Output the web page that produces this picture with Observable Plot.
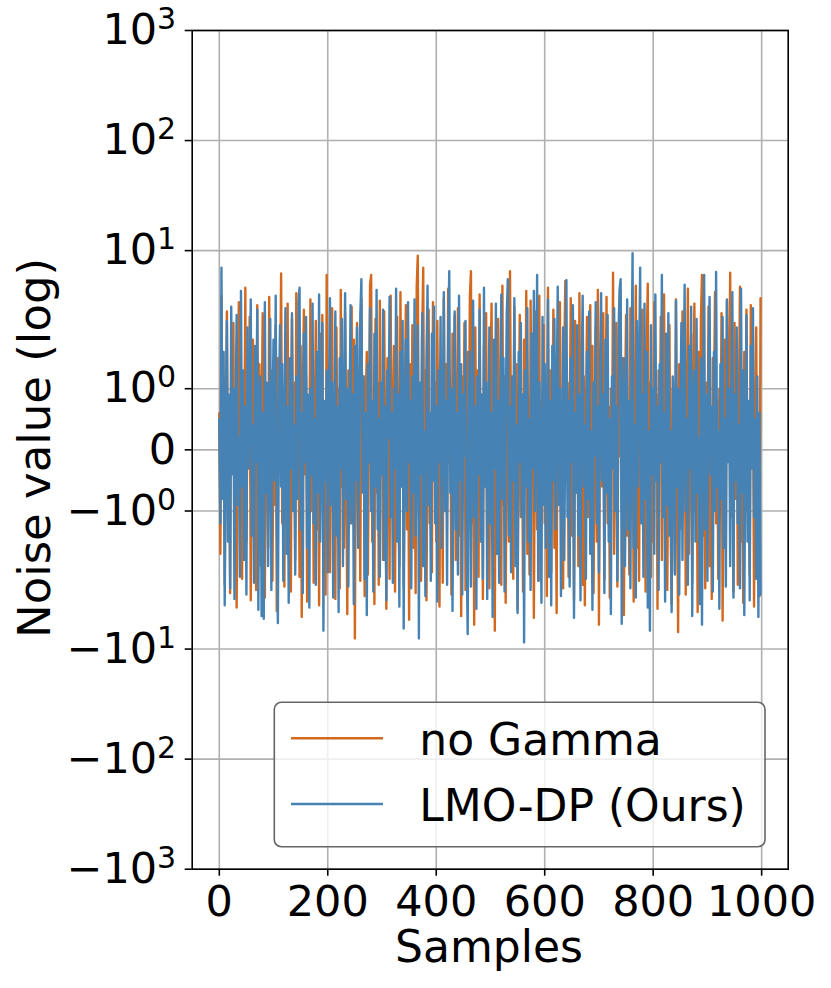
<!DOCTYPE html>
<html>
<head>
<meta charset="utf-8">
<script src="https://cdn.jsdelivr.net/npm/d3@7"></script>
<script src="https://cdn.jsdelivr.net/npm/@observablehq/plot@0.6"></script>
<style>
  html, body { margin: 0; padding: 0; background: #fff; }
  svg { display: block; }
</style>
</head>
<body>
<div id="chart"></div>
<script>
// ---- data (every 2nd sample) ----
const sampleStep = 2;
const noGamma = [
 0.6,-1.7,3.9,-0.4,1.2,-2.6,0.3,2.8,-0.9,0.5, -3.1,1.6,-0.2,2.2,-1.3,0.8,-4.2,0.1,3.4,-0.7,
 1.1,-2.3,0.4,-0.6,4.6,-1.5,0.9,-0.3,2.5,-3.6, 0.2,1.8,-1.1,0.7,-2.9,3.2,-0.5,1.4,-1.9,0.3,
 2.7,-0.8,-3.4,1.0,0.4,-1.6,3.8,-0.2,1.3,-2.4,
 0.6,-0.9,2.1,-4.5,1.5,-0.3,0.8,6.2,-1.2,0.2, -2.7,1.9,-0.6,3.3,-1.4,0.5,-3.0,2.4,-0.1,1.1,
 -1.8,4.1,-0.7,0.3,-2.2,1.7,-5.1,0.9,2.9,-0.4, 1.2,-3.7,0.6,-0.2,3.6,-1.0,1.5,-2.5,0.4,2.3,
 -1.3,0.7,-4.0,1.9,-0.5,2.6,-1.7,0.2,-3.2,6.0,
 -0.8,1.4,-2.0,0.3,3.0,-1.1,0.6,-3.5,2.0,-0.3, 1.0,-2.8,4.4,-0.6,0.9,-1.6,2.7,-0.2,-4.8,1.3,
 0.5,-1.2,3.1,-0.9,1.8,-8.0,0.7,2.2,-1.4,0.1, -2.4,3.7,-0.5,1.2,-3.3,0.8,1.6,-2.1,0.4,4.9,
 6.0,-1.5,0.3,-3.9,2.4,-0.7,1.1,-2.6,3.5,-0.4,
 0.9,-1.8,2.8,-0.2,-4.3,1.5,0.6,-2.3,3.9,-1.0, 0.2,1.7,-3.0,0.8,2.5,-0.6,-1.9,4.2,-0.3,1.0,
 -2.7,0.5,3.2,-1.3,0.9,-5.4,1.4,-0.4,2.1,-1.6, 0.7,-3.1,4.7,9.0,-1.1,0.4,-2.4,1.8,7.0,-0.8,
 1.3,-3.6,0.2,2.9,-1.2,0.6,-2.0,3.4,-0.5,1.1,
 -1.5,2.3,-0.3,-4.1,1.0,0.5,-2.5,3.6,-0.9,1.4, -1.0,4.5,-0.2,0.8,-3.2,1.9,-0.6,2.6,-1.8,0.3,
 3.0,-1.4,0.7,-5.0,1.2,-0.4,2.2,-2.9,0.6,1.6, -0.7,3.8,6.5,-1.2,0.4,-6.0,2.0,-0.5,1.3,-2.2,
 4.0,-0.8,0.9,-3.5,1.7,-0.1,2.7,-1.6,0.5,-2.8,
 1.1,3.3,-0.6,0.2,-6.8,1.5,-1.0,2.4,-0.3,0.8, -2.6,4.8,-0.9,1.2,-3.8,0.4,2.0,-1.5,6.5,-0.2,
 0.7,-2.3,3.1,-0.7,1.4,-4.4,0.3,2.6,-1.1,0.9, -3.0,1.8,-0.4,4.3,-1.7,0.6,-2.1,3.5,-0.5,1.0,
 -5.2,0.5,2.8,-1.3,0.2,3.9,-2.4,0.8,-0.6,2.1,
 -1.2,0.4,-3.3,4.6,-0.8,1.3,-2.0,0.6,2.9,-1.6, 0.1,-4.7,1.9,-0.3,3.4,-1.0,0.7,-2.8,1.5,5.3,
 -0.5,1.1,-2.2,0.3,3.7,-1.4,0.9,-3.6,2.3,-0.7, 1.6,-1.9,4.1,-0.2,0.8,-2.6,1.2,-4.0,0.5,2.5,
 -1.1,0.6,3.2,-0.9,1.7,-3.1,0.2,2.0,-1.5,4.4,
 -6.0,0.9,1.4,-0.6,2.7,-2.3,0.4,3.8,-1.2,0.7, -3.4,1.0,-0.3,6.3,-1.7,0.5,2.2,-2.7,0.8,-0.1,
 4.3,-1.0,1.5,-4.9,0.6,2.6,-1.4,0.3,-2.1,3.0, -0.8,1.2,-3.7,0.4,4.8,-1.6,0.9,-2.4,1.8,-0.5,
 2.9,-1.3,0.2,-3.0,1.6,5.0,-0.7,1.1,-2.2,0.6,
 -1.5,3.4,-0.4,0.9,-4.3,1.3,-0.2,2.5,-1.8,0.7, 4.0,-0.9,1.7,-2.9,0.3,2.1,-1.1,-3.9,1.0,0.5,
 -2.0,3.6,-0.6,-7.0,1.4,0.8,-1.3,2.8,-0.3,1.2, -3.2,0.6,4.5,-1.7,0.1,1.9,-2.5,0.7,3.3,-1.0,
 0.4,-4.6,1.6,-0.5,2.4,6.0,-1.4,0.9,-2.8,1.1,
 -0.7,3.1,-1.9,0.3,-3.5,1.5,0.6,4.2,-1.2,0.8, -2.3,1.0,-0.4,2.7,-5.5,0.5,1.8,-1.6,3.5,-0.2,
 0.9,6.3,-1.1,0.4,-3.0,2.2,-0.8,1.3,-2.6,0.7, 4.7,-1.5,0.2,-3.8,1.6,-0.6,2.9,-1.0,0.5,-2.1,
 3.2,-0.3,1.1,-4.1,0.8,2.0,-1.8,0.4,-3.3,3.7
];
const lmoDP = [
 0.5,-1.2,7.0,-0.8,1.6,-4.0,0.3,2.3,-1.5,0.9, -2.8,3.1,-0.4,1.0,-3.5,0.6,2.6,-0.9,0.2,-2.2,
 4.3,-0.6,1.3,-1.8,0.7,-3.2,2.0,-0.3,0.8,3.6, -1.4,0.4,-2.5,1.7,-0.2,2.9,-4.4,0.9,1.2,-5.0,
 0.6,-5.3,3.4,-0.7,1.1,-1.9,0.3,2.4,-2.9,0.5,
 1.8,-0.5,3.9,-1.1,-5.8,0.8,2.1,-0.6,1.4,-2.4, 0.2,3.0,-1.7,0.7,-3.8,1.5,-0.3,2.7,-1.0,0.4,
 -2.1,1.2,-0.8,3.5,4.6,-1.3,0.6,-3.1,1.9,-0.2, 2.5,-1.6,0.9,-4.2,1.0,-0.4,3.3,-1.2,0.5,-2.6,
 1.6,-0.7,4.0,-1.5,0.3,2.2,-6.8,0.8,-0.5,1.3,
 -2.0,0.6,3.7,-0.9,1.1,-3.4,0.2,2.8,-1.4,0.7, -4.6,1.5,-0.3,2.4,-1.9,0.5,4.1,-0.8,1.0,-2.7,
 0.3,3.2,-1.2,0.9,-3.9,1.7,-0.5,2.0,-1.6,0.4, 2.6,5.5,-0.7,1.2,-2.3,0.6,-4.9,1.4,-0.2,3.0,
 -1.0,0.8,-3.0,1.9,-0.6,4.4,-1.3,0.5,-2.2,1.1,
 -0.4,2.9,-1.8,0.7,-3.6,1.3,0.2,3.8,-1.1,0.6, -2.5,1.0,-0.3,4.5,-1.5,0.9,-4.1,1.6,-0.6,2.3,
 -6.5,0.4,1.8,-1.0,3.4,-0.2,0.8,-2.8,1.2,-0.7, 3.6,-1.4,0.5,2.1,-8.0,1.1,-0.4,2.7,-1.9,0.3,
 -3.3,1.5,4.8,-0.9,0.6,-2.4,1.9,-0.5,3.1,-1.2,
 0.7,-3.7,1.3,-0.2,2.5,-1.6,0.4,4.2,-1.0,0.8, -2.6,1.7,6.5,-0.7,1.0,-4.5,0.3,2.8,-1.3,0.6,
 -2.1,3.9,-0.5,1.4,-3.2,0.9,-0.1,2.3,-1.7,-7.3, 0.5,1.6,-2.7,0.2,3.5,-1.1,0.7,-4.3,1.2,-0.4,
 2.9,-1.5,0.9,-2.3,4.6,-0.6,1.1,-3.5,0.4,2.0,
 -1.2,0.6,-5.1,1.8,-0.3,3.3,-1.7,0.8,-2.5,1.0, 4.0,-0.8,1.5,-3.0,0.3,2.6,5.5,-1.4,0.7,-2.0,
 1.2,-0.5,3.7,-1.9,0.4,-4.7,1.6,-0.2,2.2,-1.1, 0.9,-8.7,1.3,-0.6,3.0,-1.5,0.5,-2.9,1.9,-0.3,
 4.3,-1.0,0.7,6.0,-2.4,1.1,-0.4,-3.8,2.5,-0.9,
 1.4,-1.6,0.2,3.6,-2.2,0.8,-4.0,1.7,-0.5,2.4, -1.3,0.6,4.7,-0.9,1.0,-3.3,0.3,2.0,-1.8,0.5,
 5.4,-1.1,0.8,-2.7,1.5,-0.2,3.2,-5.2,0.6,-0.7, 2.1,-1.4,0.9,-3.6,1.2,3.9,-0.6,0.4,-2.3,1.6,
 -0.8,2.8,-1.7,0.3,-4.4,1.1,-0.1,3.4,-1.2,0.7,
 -2.0,1.4,4.1,-0.5,0.9,-3.1,1.8,-0.7,2.6,-1.5, 0.5,-4.8,1.2,-0.3,3.0,-1.0,0.7,-2.4,1.9,4.4,
 5.5,-5.9,0.6,1.5,-1.9,0.2,3.6,-1.3,0.8,-2.8, 1.1,9.5,-1.6,0.4,-3.4,2.3,-0.6,1.3,7.0,-1.2,
 0.9,-2.2,3.3,-0.8,1.6,-4.2,0.3,-6.8,2.1,-0.4,
 1.0,-1.7,4.0,-0.5,0.7,-2.9,1.4,-0.2,6.0,-1.1, 0.6,-3.7,1.9,-0.9,2.7,-1.4,0.3,-4.6,1.2,0.8,
 -2.1,3.5,-0.6,1.0,-3.2,0.4,2.2,-1.8,0.9,4.9, -1.0,0.5,-2.6,1.7,-0.3,3.1,-5.0,0.8,1.3,-1.5,
 2.4,-0.7,0.2,-3.9,1.5,-6.0,0.6,6.0,-1.3,0.9,
 -2.4,1.1,3.8,-0.4,0.7,-3.0,1.6,-1.0,6.4,-0.6, 0.3,-4.3,1.4,-0.8,2.5,-1.6,0.5,-2.7,3.6,-0.2,
 1.0,-1.9,0.6,4.2,-3.4,0.9,-0.5,2.0,-1.2,0.4, -2.8,4.5,-0.7,1.3,-4.9,0.2,2.6,-1.5,0.8,-3.6,
 1.7,-0.3,3.0,-1.1,0.5,-2.3,1.2,-5.1,0.6,-3.2
];
const seriesNames = ["no Gamma", "LMO-DP (Ours)"];
const seriesColors = ["#d2691e", "#4682b4"];
const xTicks = [0, 200, 400, 600, 800, 1000];
const yTicks = [-1000, -100, -10, -1, 0, 1, 10, 100, 1000];
const yTickLabels = ["−10^3", "−10^2", "−10^1", "−10^0", "0", "10^0", "10^1", "10^2", "10^3"];

// matplotlib-style symlog (base 10, linthresh 2, linscale 1)
const LT = 2, LS = 1 / (1 - 1 / 10);
const symlog = v => {
  const a = Math.abs(v);
  return a <= LT ? v * LS : Math.sign(v) * LT * (LS + Math.log10(a / LT));
};

const rows = [];
[noGamma, lmoDP].forEach((arr, s) => arr.forEach((v, i) => rows.push({x: i * sampleStep, v, s: seriesNames[s]})));
const yT = yTicks.map(symlog);
const labelOf = new Map(yT.map((t, i) => [t, yTickLabels[i]]));

const W = 831, H = 988;
const mL = 191.7, mR = 43.3, mT = 30, mB = 119.3;
const gridStyle = {stroke: "#b0b0b0", strokeOpacity: 1, strokeWidth: 1.6};

const svg = Plot.plot({
  width: W, height: H,
  marginLeft: mL, marginRight: mR, marginTop: mT, marginBottom: mB,
  style: {fontFamily: "DejaVu Sans", fontSize: "43px", background: "white", color: "black"},
  x: {domain: [-49.95, 1048.95]},
  y: {domain: [symlog(-1000), symlog(1000)]},
  marks: [
    Plot.gridX(xTicks, gridStyle),
    Plot.gridY(yT, gridStyle),
    Plot.line(rows.filter(d => d.s === seriesNames[0]), {x: "x", y: d => symlog(d.v), stroke: seriesColors[0], strokeWidth: 2.4, strokeLinejoin: "round"}),
    Plot.line(rows.filter(d => d.s === seriesNames[1]), {x: "x", y: d => symlog(d.v), stroke: seriesColors[1], strokeWidth: 2.4, strokeLinejoin: "round"}),
    Plot.frame({stroke: "black", strokeWidth: 1.6}),
    Plot.axisX(xTicks, {tickSize: 7, tickPadding: 9, tickFormat: d => String(d), label: null, fontSize: 43, strokeWidth: 1.6}),
    Plot.axisY(yT, {tickSize: 7, tickPadding: 9, tickFormat: d => labelOf.get(d), label: null, fontSize: 43, strokeWidth: 1.6})
  ]
});

const root = d3.select(svg);
// superscripts for the log tick labels
root.selectAll("text").each(function () {
  const t = this.textContent;
  const m = t.match(/^(−?10)\^(\d)$/);
  if (m) {
    const el = d3.select(this);
    el.text(null);
    el.append("tspan").text(m[1]);
    el.append("tspan").attr("dy", -15).attr("font-size", "30px").text(m[2]);
  }
});

// axis titles
root.append("text").attr("x", 489).attr("y", 962).attr("text-anchor", "middle")
  .attr("font-family", "DejaVu Sans").attr("font-size", 44).attr("fill", "black").text("Samples");
root.append("text").attr("transform", "translate(50,448) rotate(-90)").attr("text-anchor", "middle")
  .attr("font-family", "DejaVu Sans").attr("font-size", 45).attr("fill", "black").text("Noise value (log)");

// legend
const lg = root.append("g");
lg.append("rect").attr("x", 274.3).attr("y", 702.3).attr("width", 490.7).attr("height", 144.4)
  .attr("rx", 7).attr("fill", "white").attr("fill-opacity", 0.8).attr("stroke", "#666").attr("stroke-width", 1.6);
const legendY = [738.3, 804];
seriesNames.forEach((name, i) => {
  lg.append("line").attr("x1", 291).attr("x2", 383).attr("y1", legendY[i]).attr("y2", legendY[i])
    .attr("stroke", seriesColors[i]).attr("stroke-width", 2.4);
  lg.append("text").attr("x", 419.3).attr("y", legendY[i] + 16.6).attr("text-anchor", "start")
    .attr("font-family", "DejaVu Sans").attr("font-size", 44).attr("fill", "black").text(name);
});

document.getElementById("chart").appendChild(svg);
</script>
</body>
</html>
